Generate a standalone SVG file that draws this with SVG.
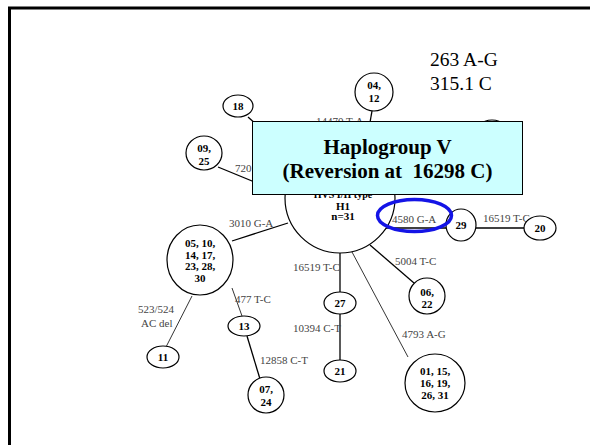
<svg xmlns="http://www.w3.org/2000/svg" width="590" height="445" viewBox="0 0 590 445">
<style>
.nd{fill:#fff;stroke:#000;stroke-width:1.2}
.nt{font-family:'Liberation Serif','DejaVu Serif',serif;font-size:11px;font-weight:bold;text-anchor:middle;fill:#000}
.lb{font-family:'Liberation Serif','DejaVu Serif',serif;font-size:11px;fill:#444}
.big{font-family:'Liberation Serif','DejaVu Serif',serif;font-size:19.5px;fill:#000}
.ttl{font-family:'Liberation Serif','DejaVu Serif',serif;font-size:21px;font-weight:bold;text-anchor:middle;fill:#000}
.ln{stroke:#000;stroke-width:1.3;fill:none}
.lt{stroke:#000;stroke-width:0.8;fill:none}
</style>
<rect width="590" height="445" fill="#fff"/>
<path d="M9.5 445 V8 H590" fill="none" stroke="#000" stroke-width="3"/>
<g id="mutations-top">
<text class="big" x="430" y="66">263 A-G</text>
<text class="big" x="430" y="90">315.1 C</text>
</g>
<g id="connectors">
<line class="ln" x1="248" y1="117" x2="300" y2="163"/>
<line class="ln" x1="372" y1="111" x2="366" y2="145"/>
<line class="ln" x1="218" y1="167" x2="286" y2="195"/>
<line class="ln" x1="232" y1="241" x2="288" y2="223"/>
<line class="ln" x1="386" y1="228" x2="446" y2="228"/>
<line class="ln" x1="476" y1="228" x2="524" y2="228"/>
<line class="ln" x1="370" y1="245" x2="414" y2="283"/>
<line class="lt" x1="352" y1="252" x2="408" y2="357"/>
<line class="ln" x1="340" y1="253" x2="340" y2="292"/>
<line class="ln" x1="340" y1="314" x2="340" y2="360"/>
<line class="lt" x1="192" y1="296" x2="166" y2="347"/>
<line class="lt" x1="232" y1="288" x2="242" y2="316"/>
<line class="ln" x1="247" y1="336" x2="260" y2="379"/>
<text class="lb" x="316" y="125">14470 T-A</text>
<text class="lb" x="235" y="172">720</text>
<text class="lb" x="229" y="227">3010 G-A</text>
<text class="lb" x="392" y="223">4580 G-A</text>
<text class="lb" x="483" y="222">16519 T-C</text>
<text class="lb" x="395" y="265">5004 T-C</text>
<text class="lb" x="293" y="271">16519 T-C</text>
<text class="lb" x="293" y="332">10394 C-T</text>
<text class="lb" x="402" y="338">4793 A-G</text>
<text class="lb" x="235" y="303">477 T-C</text>
<text class="lb" x="260" y="364">12858 C-T</text>
<text class="lb" x="138" y="313">523/524</text>
<text class="lb" x="141" y="327">AC del</text>
</g>
<g id="node-hidden"><circle class="nd" cx="492" cy="138" r="18"/></g>
<g id="node-central">
<circle class="nd" cx="340" cy="198" r="55"/>
<text class="nt" x="343" y="197.5" style="font-size:10px">HVS I/II type</text>
<text class="nt" x="343" y="209.5">H1</text>
<text class="nt" x="343" y="220">n=31</text>
</g>
<g id="node-18"><ellipse class="nd" cx="238" cy="106" rx="15" ry="11"/><text class="nt" x="238" y="110">18</text></g>
<g id="node-04-12"><ellipse class="nd" cx="374" cy="92" rx="19" ry="19"/><text class="nt" x="374" y="89">04,</text><text class="nt" x="374" y="102">12</text></g>
<g id="node-09-25"><ellipse class="nd" cx="204" cy="153" rx="18" ry="17"/><text class="nt" x="204" y="152">09,</text><text class="nt" x="204" y="165">25</text></g>
<g id="node-05"><ellipse class="nd" cx="200" cy="260" rx="33" ry="35"/>
<text class="nt" x="200" y="247">05, 10,</text><text class="nt" x="200" y="259">14, 17,</text><text class="nt" x="200" y="270">23, 28,</text><text class="nt" x="200" y="282">30</text></g>
<g id="node-29"><ellipse class="nd" cx="461" cy="225" rx="15" ry="16"/><text class="nt" x="461" y="229">29</text></g>
<g id="node-20"><ellipse class="nd" cx="540" cy="228" rx="16" ry="12"/><text class="nt" x="540" y="232">20</text></g>
<g id="node-06-22"><ellipse class="nd" cx="427" cy="296" rx="18" ry="18"/><text class="nt" x="427" y="296">06,</text><text class="nt" x="427" y="308">22</text></g>
<g id="node-27"><ellipse class="nd" cx="340" cy="303" rx="16" ry="11"/><text class="nt" x="340" y="307">27</text></g>
<g id="node-21"><ellipse class="nd" cx="340" cy="371" rx="16" ry="11"/><text class="nt" x="340" y="375">21</text></g>
<g id="node-01"><ellipse class="nd" cx="435" cy="383" rx="30" ry="29"/>
<text class="nt" x="435" y="375">01, 15,</text><text class="nt" x="435" y="387">16, 19,</text><text class="nt" x="435" y="399">26, 31</text></g>
<g id="node-11"><ellipse class="nd" cx="163" cy="357" rx="16" ry="11"/><text class="nt" x="163" y="361">11</text></g>
<g id="node-13"><ellipse class="nd" cx="244" cy="326" rx="16" ry="10"/><text class="nt" x="244" y="330">13</text></g>
<g id="node-07-24"><ellipse class="nd" cx="266" cy="395" rx="18" ry="18"/><text class="nt" x="266" y="393">07,</text><text class="nt" x="266" y="406">24</text></g>
<g id="callout">
<rect x="252.5" y="121.5" width="270" height="73" fill="#CCFFFF" stroke="#000" stroke-width="1"/>
<text class="ttl" x="387.5" y="154">Haplogroup V</text>
<text class="ttl" x="387.5" y="178" xml:space="preserve">(Reversion at  16298 C)</text>
</g>
<g id="highlight"><ellipse cx="414.5" cy="215.5" rx="37" ry="16" fill="none" stroke="#1414E6" stroke-width="3.5"/></g>
</svg>
